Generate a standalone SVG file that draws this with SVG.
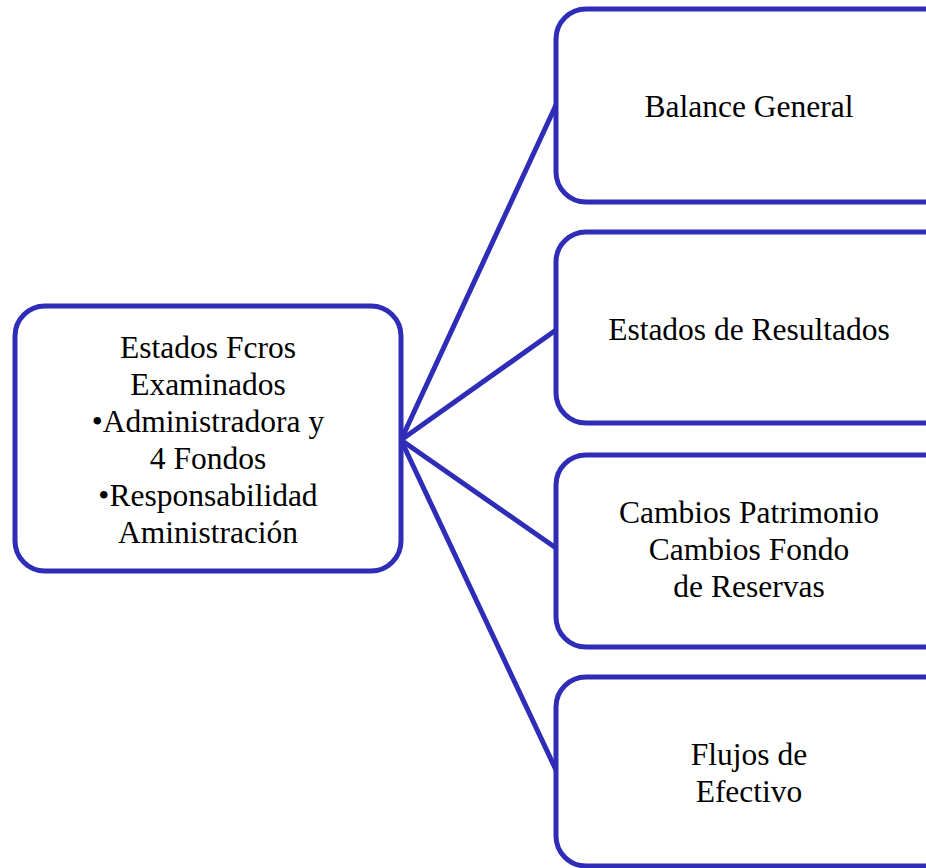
<svg xmlns="http://www.w3.org/2000/svg" width="926" height="868" viewBox="0 0 926 868">
<style>
.box{fill:#ffffff;stroke:#2f2db7;stroke-width:5}
.con{stroke:#2f2db7;stroke-width:5;fill:none;stroke-linecap:round}
text{font-family:"Liberation Serif","Times New Roman",serif;font-size:31.5px;fill:#000;text-anchor:middle}
</style>
<rect width="926" height="868" fill="#ffffff"/>
<g id="connectors">
<line class="con" x1="401" y1="440" x2="556" y2="105"/>
<line class="con" x1="401" y1="440" x2="556" y2="330"/>
<line class="con" x1="401" y1="440" x2="556" y2="548"/>
<line class="con" x1="401" y1="440" x2="556" y2="770"/>
</g>
<g id="root">
<rect class="box" x="15" y="306" width="386" height="265" rx="30" ry="30"/>
<text x="208" y="358">Estados Fcros</text>
<text x="208" y="395">Examinados</text>
<text x="208" y="432">•Administradora y</text>
<text x="208" y="469">4 Fondos</text>
<text x="208" y="506">•Responsabilidad</text>
<text x="208" y="543">Aministración</text>
</g>
<g id="balance">
<rect class="box" x="556" y="9" width="420" height="193" rx="30" ry="30"/>
<text x="749" y="117">Balance General</text>
</g>
<g id="resultados">
<rect class="box" x="556" y="232" width="420" height="191" rx="30" ry="30"/>
<text x="749" y="340">Estados de Resultados</text>
</g>
<g id="cambios">
<rect class="box" x="556" y="455" width="420" height="192" rx="30" ry="30"/>
<text x="749" y="523">Cambios Patrimonio</text>
<text x="749" y="560">Cambios Fondo</text>
<text x="749" y="597">de Reservas</text>
</g>
<g id="flujos">
<rect class="box" x="556" y="677" width="420" height="189" rx="30" ry="30"/>
<text x="749" y="765">Flujos de</text>
<text x="749" y="802">Efectivo</text>
</g>
</svg>
